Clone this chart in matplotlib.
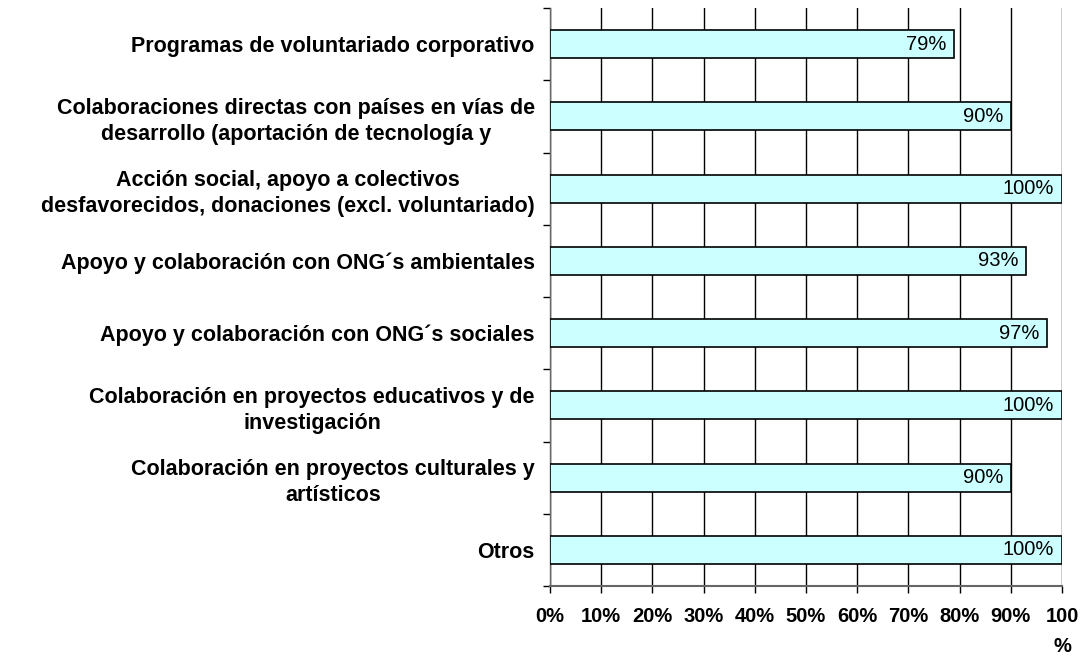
import matplotlib.pyplot as plt
import numpy as np

plt.rcParams['font.family'] = ['Liberation Sans', 'DejaVu Sans']

categories = [
    "Programas de voluntariado corporativo",
    "Colaboraciones directas con países en vías de\ndesarrollo (aportación de tecnología y",
    "Acción social, apoyo a colectivos\ndesfavorecidos, donaciones (excl. voluntariado)",
    "Apoyo y colaboración con ONG´s ambientales",
    "Apoyo y colaboración con ONG´s sociales",
    "Colaboración en proyectos educativos y de\ninvestigación",
    "Colaboración en proyectos culturales y\nartísticos",
    "Otros",
]
values = [79, 90, 100, 93, 97, 100, 90, 100]
xticks = [0, 10, 20, 30, 40, 50, 60, 70, 80, 90, 100]
xtick_labels = ["0%", "10%", "20%", "30%", "40%", "50%", "60%", "70%", "80%", "90%", "100\n%"]

fig = plt.figure(figsize=(10.83, 6.57), dpi=100)
ax = fig.add_axes([550 / 1083, 1 - 586 / 657, 512 / 1083, 578 / 657])

y = np.arange(len(categories))
ax.barh(y, values, height=0.39, color="#CCFFFF", edgecolor="black", linewidth=1.2, zorder=3)

for yi, v in zip(y, values):
    ax.text(v - 1.5, yi, f"{v}%", ha="right", va="center", fontsize=14.5, zorder=4)

ax.set_xlim(0, 100)
ax.set_ylim(len(categories) - 0.5, -0.5)

ax.set_xticks(xticks)
ax.set_xticklabels(xtick_labels, fontsize=14.5, fontweight="bold", linespacing=1.75, va="top")
ax.tick_params(axis="x", direction="out", length=5, width=1, pad=10)

ax.set_yticks(np.arange(len(categories) + 1) - 0.5)
ax.set_yticklabels([])
ax.set_yticks(y, minor=True)
ax.set_yticklabels(categories, minor=True, fontsize=15.5, fontweight="bold",
                   multialignment="center", linespacing=1.3)
ax.tick_params(axis="y", which="minor", length=0, pad=11)
ax.tick_params(axis="y", which="major", direction="out", length=5, width=1)

ax.grid(axis="x", color="black", linewidth=1, zorder=0)
for side in ["top", "right"]:
    ax.spines[side].set_visible(False)
ax.spines["left"].set_color("#666666")
ax.spines["bottom"].set_color("#666666")
ax.spines["left"].set_linewidth(1)
ax.spines["bottom"].set_linewidth(1.5)

fig.savefig("out.png", dpi=100)
